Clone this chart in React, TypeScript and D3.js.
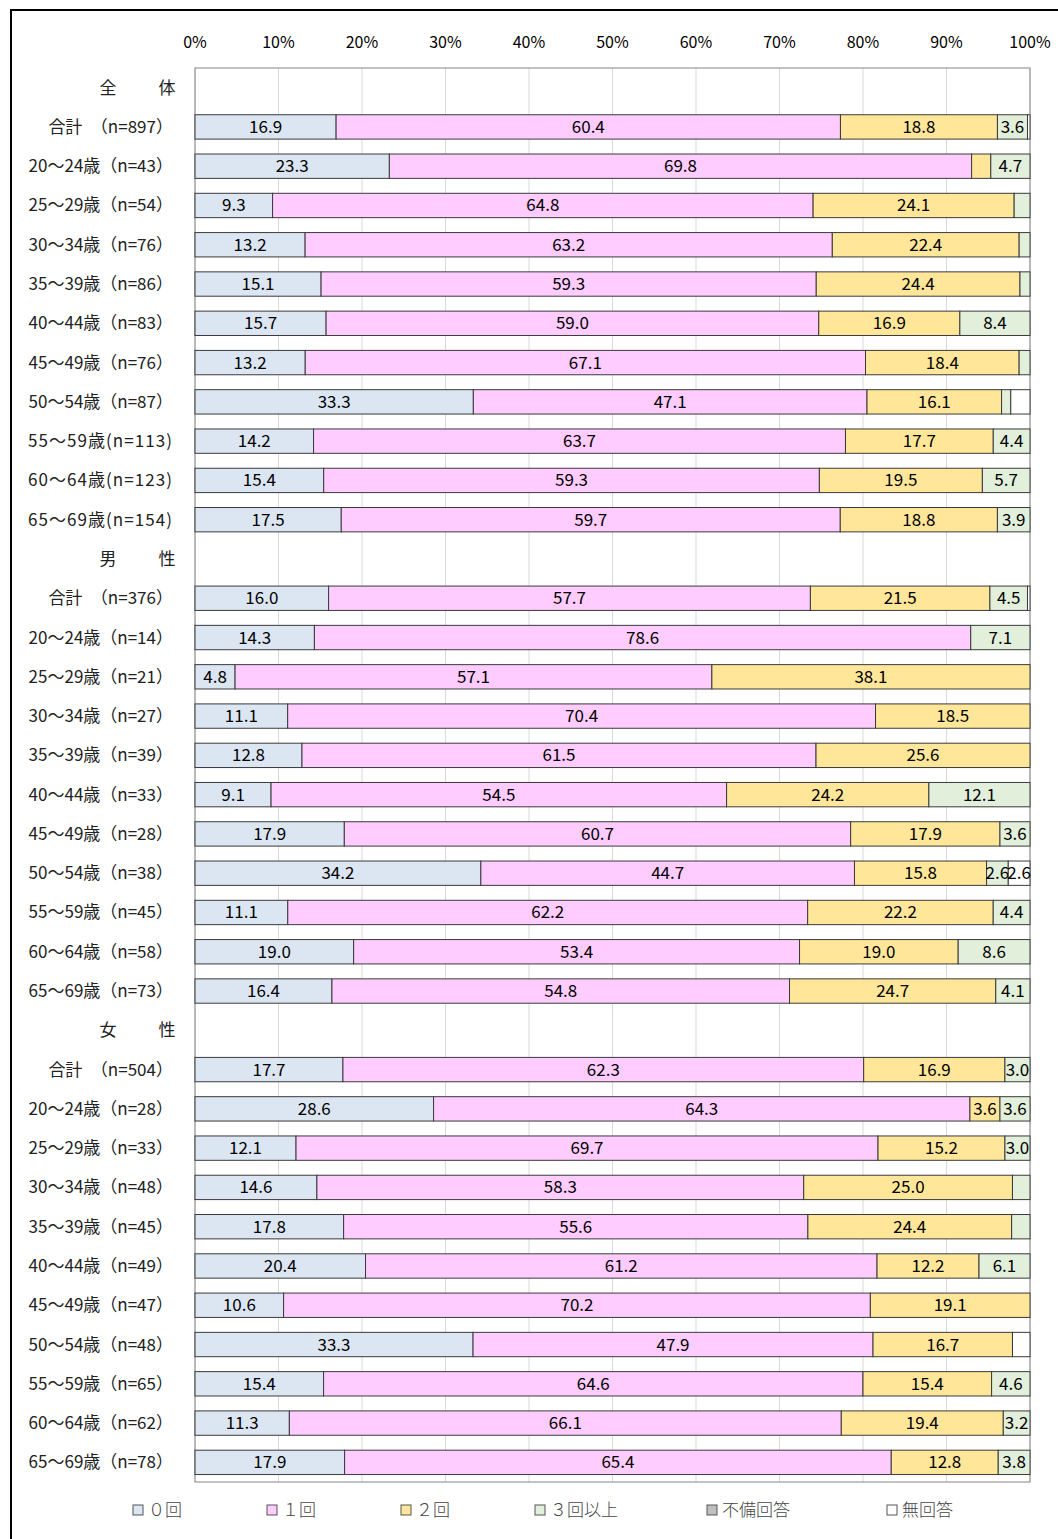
import React from "react"
import * as d3 from "d3"

// row groups and row labels (11 rows per group)
const groups = ["全", "男", "女"]
const groupsRight = ["体", "性", "性"]
const rowLabels = [
  "合計　（n=897）", "20～24歳（n=43）", "25～29歳（n=54）", "30～34歳（n=76）", "35～39歳（n=86）", "40～44歳（n=83）",
  "45～49歳（n=76）", "50～54歳（n=87）", "55～59歳(n=113)", "60～64歳(n=123)", "65～69歳(n=154)",
  "合計　（n=376）", "20～24歳（n=14）", "25～29歳（n=21）", "30～34歳（n=27）", "35～39歳（n=39）", "40～44歳（n=33）",
  "45～49歳（n=28）", "50～54歳（n=38）", "55～59歳（n=45）", "60～64歳（n=58）", "65～69歳（n=73）",
  "合計　（n=504）", "20～24歳（n=28）", "25～29歳（n=33）", "30～34歳（n=48）", "35～39歳（n=45）", "40～44歳（n=49）",
  "45～49歳（n=47）", "50～54歳（n=48）", "55～59歳（n=65）", "60～64歳（n=62）", "65～69歳（n=78）",
]

const seriesNames = ["０回", "１回", "２回", "３回以上", "不備回答", "無回答"]
const seriesColors = ["#DCE6F2", "#FFCCFF", "#FFE699", "#E2EFDA", "#BFBFBF", "#FFFFFF"]

const zero = [
  16.9, 23.3, 9.3, 13.2, 15.1, 15.7, 13.2, 33.3, 14.2, 15.4, 17.5,
  16.0, 14.3, 4.8, 11.1, 12.8, 9.1, 17.9, 34.2, 11.1, 19.0, 16.4,
  17.7, 28.6, 12.1, 14.6, 17.8, 20.4, 10.6, 33.3, 15.4, 11.3, 17.9,
]
const one = [
  60.4, 69.8, 64.8, 63.2, 59.3, 59.0, 67.1, 47.1, 63.7, 59.3, 59.7,
  57.7, 78.6, 57.1, 70.4, 61.5, 54.5, 60.7, 44.7, 62.2, 53.4, 54.8,
  62.3, 64.3, 69.7, 58.3, 55.6, 61.2, 70.2, 47.9, 64.6, 66.1, 65.4,
]
const two = [
  18.8, 2.3, 24.1, 22.4, 24.4, 16.9, 18.4, 16.1, 17.7, 19.5, 18.8,
  21.5, 0, 38.1, 18.5, 25.6, 24.2, 17.9, 15.8, 22.2, 19.0, 24.7,
  16.9, 3.6, 15.2, 25.0, 24.4, 12.2, 19.1, 16.7, 15.4, 19.4, 12.8,
]
const three = [
  3.6, 4.7, 1.9, 1.3, 1.2, 8.4, 1.3, 1.1, 4.4, 5.7, 3.9,
  4.5, 7.1, 0, 0, 0, 12.1, 3.6, 2.6, 4.4, 8.6, 4.1,
  3.0, 3.6, 3.0, 2.1, 2.2, 6.1, 0, 0, 4.6, 3.2, 3.8,
]
const incomplete = [
  0, 0, 0, 0, 0, 0, 0, 0, 0, 0, 0,
  0, 0, 0, 0, 0, 0, 0, 0, 0, 0, 0,
  0, 0, 0, 0, 0, 0, 0, 0, 0, 0, 0,
]
const noAnswer = [
  0.3, 0, 0, 0, 0, 0, 0, 2.3, 0, 0, 0,
  0.3, 0, 0, 0, 0, 0, 0, 2.6, 0, 0, 0,
  0, 0, 0, 0, 0, 0, 0, 2.1, 0, 0, 0,
]
const xTicks = [0, 10, 20, 30, 40, 50, 60, 70, 80, 90, 100]

const W = 1058
const H = 1539
const margin = { top: 68, right: 28, bottom: 57, left: 195 }
const FONT = "'Noto Sans CJK JP', 'Noto Sans', sans-serif"

const App = () => {
  const seriesData = [zero, one, two, three, incomplete, noAnswer]

  // build rows: group header + 11 data rows
  const rows: any[] = []
  groups.forEach((g, gi) => {
    rows.push({ id: "h" + gi, header: true, left: g, right: groupsRight[gi] })
    for (let i = 0; i < 11; i++) {
      const k = gi * 11 + i
      const d: any = { id: "r" + k, header: false, label: rowLabels[k] }
      seriesNames.forEach((s, si) => (d[s] = seriesData[si][k]))
      rows.push(d)
    }
  })
  const dataRows = rows.filter(r => !r.header)

  const x = d3.scaleLinear().domain([0, 1]).range([margin.left, W - margin.right])
  const y = d3
    .scaleBand()
    .domain(rows.map(r => r.id))
    .range([margin.top, H - margin.bottom])
    .paddingInner(0.38)
    .paddingOuter(0.19)

  const stacked = d3.stack().keys(seriesNames).offset(d3.stackOffsetExpand)(dataRows)

  const plotRight = W - margin.right
  const plotBottom = H - margin.bottom

  return (
    <svg
      width={W}
      height={H}
      style={{ position: "absolute", left: 0, top: 0, background: "#fff" }}
      fontFamily={FONT}
    >
      {/* outer frame */}
      <rect x={11} y={10} width={W} height={H} fill="none" stroke="#000" strokeWidth={2} />

      {/* grid */}
      {xTicks.map(t => (
        <line key={t} x1={x(t / 100)} x2={x(t / 100)} y1={margin.top} y2={plotBottom} stroke="#D9D9D9" />
      ))}
      <rect
        x={margin.left}
        y={margin.top}
        width={plotRight - margin.left}
        height={plotBottom - margin.top}
        fill="none"
        stroke="#868686"
      />

      {/* tick labels */}
      {xTicks.map(t => (
        <text key={t} x={x(t / 100)} y={48} textAnchor="middle" fontSize={16} fill="#000">
          {t}%
        </text>
      ))}

      {/* bars */}
      {stacked.map((layer, si) => (
        <g key={seriesNames[si]}>
          {layer.map((seg, ri) => {
            const v = dataRows[ri][seriesNames[si]]
            if (!v) return null
            const x0 = x(seg[0])
            const x1 = x(seg[1])
            const yy = y(dataRows[ri].id)!
            return (
              <g key={ri}>
                <rect
                  x={x0}
                  y={yy}
                  width={x1 - x0}
                  height={y.bandwidth()}
                  fill={seriesColors[si]}
                  stroke="#3a3a3a"
                  strokeWidth={1}
                />
                {v >= 2.5 && (
                  <text
                    x={(x0 + x1) / 2}
                    y={yy + y.bandwidth() / 2 + 6}
                    textAnchor="middle"
                    fontSize={17}
                    fill="#000"
                  >
                    {v.toFixed(1)}
                  </text>
                )}
              </g>
            )
          })}
        </g>
      ))}

      {/* row labels */}
      {rows.map(r => {
        const cy = y(r.id)! + y.bandwidth() / 2 + 6
        if (r.header)
          return (
            <g key={r.id} fontSize={17} fill="#222">
              <text x={108} y={cy} textAnchor="middle">{r.left}</text>
              <text x={167} y={cy} textAnchor="middle">{r.right}</text>
            </g>
          )
        const wide = r.label.includes("(")
        return (
          <text
            key={r.id}
            x={wide ? 28 : 173}
            y={cy}
            textAnchor={wide ? "start" : "end"}
            fontSize={17}
            fill="#222"
            textLength={wide ? 144 : undefined}
            lengthAdjust="spacing"
          >
            {r.label}
          </text>
        )
      })}

      {/* legend */}
      {seriesNames.map((s, i) => {
        const lx = [133, 267, 401, 535, 707, 887][i]
        return (
          <g key={s} transform={`translate(${lx},1505)`}>
            <rect x={0} y={0} width={10} height={10} fill={i === 5 ? "#fff" : seriesColors[i]} stroke="#555" />
            <text x={15} y={11} fontSize={17} fill="#444" fontWeight={300}>
              {s}
            </text>
          </g>
        )
      })}
    </svg>
  )
}

export default App
